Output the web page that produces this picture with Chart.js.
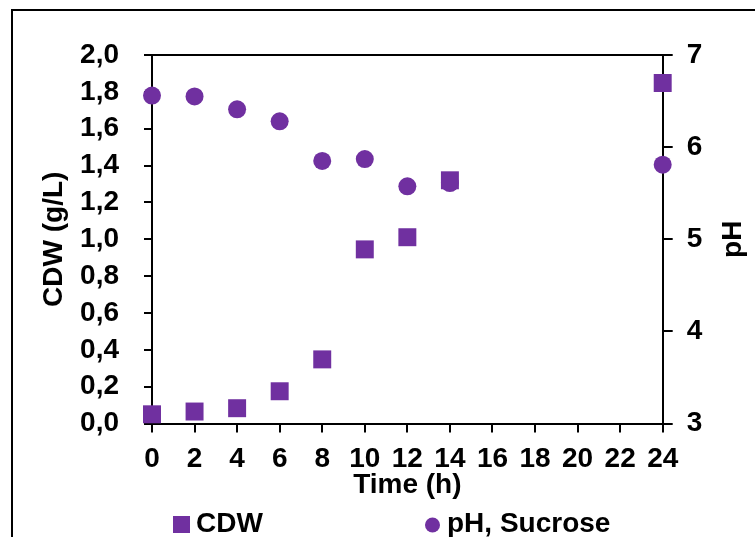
<!DOCTYPE html>
<html>
<head>
<meta charset="utf-8">
<script src="https://cdn.jsdelivr.net/npm/chart.js@4"></script>
<style>
  html, body { margin: 0; padding: 0; background: #fff; overflow: hidden; }
  #wrap { position: relative; width: 755px; height: 537px; overflow: hidden; }
  #frame { position: absolute; left: 11px; top: 9px; width: 1000px; height: 1000px;
           border-left: 2px solid #000; border-top: 2px solid #000; }
  canvas { position: absolute; left: 0; top: 0; }
</style>
</head>
<body>
<div id="wrap">
  <div id="frame"></div>
  <canvas id="chart" width="755" height="537"></canvas>
</div>
<script>
// time points (h)
var timeH = [0, 2, 4, 6, 8, 10, 12, 14, 24];
// cell dry weight, g/L (left axis)
var cdw = [0.05, 0.065, 0.083, 0.175, 0.348, 0.945, 1.011, 1.32, 1.848];
// pH (right axis)
var ph = [6.56, 6.55, 6.41, 6.28, 5.85, 5.87, 5.575, 5.61, 5.81];

var cdwTickLabels = ['0,0', '0,2', '0,4', '0,6', '0,8', '1,0', '1,2', '1,4', '1,6', '1,8', '2,0'];
var phTickLabels = ['3', '4', '5', '6', '7'];
var xTickLabels = ['0', '2', '4', '6', '8', '10', '12', '14', '16', '18', '20', '22', '24'];

var purple = '#7030A0';
var fontFam = '"Liberation Sans", Arial, sans-serif';

function pts(xs, ys) {
    return xs.map(function(x, i) { return {x: x, y: ys[i]}; });
}

// top border of the plot area, right axis title, legend
var extras = {
    id: 'extras',
    afterDraw: function(chart) {
        var ctx = chart.ctx, a = chart.chartArea;
        ctx.save();
        ctx.strokeStyle = '#000';
        ctx.lineWidth = 2;
        ctx.beginPath();
        ctx.moveTo(a.left, a.top);
        ctx.lineTo(a.right, a.top);
        ctx.stroke();

        ctx.fillStyle = '#000';
        ctx.font = 'bold 28px ' + fontFam;
        ctx.textAlign = 'center';
        ctx.textBaseline = 'middle';
        ctx.translate(733, (a.top + a.bottom) / 2);
        ctx.rotate(-Math.PI / 2);
        ctx.fillText('pH', 0, 0);
        ctx.restore();

        // legend
        var ds = chart.data.datasets;
        ctx.save();
        ctx.font = 'bold 28px ' + fontFam;
        ctx.textBaseline = 'middle';
        ctx.textAlign = 'left';
        ctx.fillStyle = ds[0].backgroundColor;
        ctx.fillRect(173, 516, 17, 17);
        ctx.fillStyle = '#000';
        ctx.fillText(ds[0].label, 196, 524);
        ctx.fillStyle = ds[1].backgroundColor;
        ctx.beginPath();
        ctx.arc(432.5, 525, 7.5, 0, Math.PI * 2);
        ctx.fill();
        ctx.fillStyle = '#000';
        ctx.fillText(ds[1].label, 447, 524);
        ctx.restore();
    }
};

new Chart(document.getElementById('chart'), {
    type: 'scatter',
    data: {
        datasets: [{
            label: 'CDW',
            data: pts(timeH, cdw),
            yAxisID: 'y',
            pointStyle: 'rect',
            pointRadius: 12.7,
            backgroundColor: purple,
            borderWidth: 0,
            clip: false
        }, {
            label: 'pH, Sucrose',
            data: pts(timeH, ph),
            yAxisID: 'y2',
            pointStyle: 'circle',
            pointRadius: 9,
            backgroundColor: purple,
            borderWidth: 0,
            clip: false
        }]
    },
    options: {
        responsive: false,
        animation: false,
        events: [],
        layout: { padding: { top: 55, left: 0, right: 0, bottom: 0 } },
        plugins: { legend: { display: false }, tooltip: { enabled: false } },
        scales: {
            x: {
                type: 'linear',
                min: 0, max: 24,
                afterFit: function(s) { s.height = 113.5; },
                border: { color: '#000', width: 2 },
                grid: { drawOnChartArea: false, color: '#000', lineWidth: 2, tickLength: 9 },
                ticks: {
                    stepSize: 2, padding: 10, color: '#000', maxRotation: 0, autoSkip: false,
                    font: { family: fontFam, size: 28, weight: 'bold' },
                    callback: function(v, i) { return xTickLabels[i]; }
                },
                title: {
                    display: true, text: 'Time (h)', color: '#000',
                    font: { family: fontFam, size: 28, weight: 'bold' },
                    padding: { top: 0, bottom: 35 }
                }
            },
            y: {
                position: 'left',
                min: 0, max: 2,
                afterFit: function(s) { s.width = 152; },
                border: { color: '#000', width: 2 },
                grid: { drawOnChartArea: false, color: '#000', lineWidth: 2, tickLength: 8 },
                ticks: {
                    stepSize: 0.2, padding: 25, color: '#000',
                    font: { family: fontFam, size: 28, weight: 'bold' },
                    callback: function(v, i) { return cdwTickLabels[i]; }
                },
                title: {
                    display: true, text: 'CDW (g/L)', color: '#000',
                    font: { family: fontFam, size: 28, weight: 'bold' },
                    padding: { top: 37, bottom: 0 }
                }
            },
            y2: {
                position: 'right',
                min: 3, max: 7,
                afterFit: function(s) { s.width = 92.3; },
                border: { color: '#000', width: 2 },
                grid: { drawOnChartArea: false, color: '#000', lineWidth: 2, tickLength: 10 },
                ticks: {
                    stepSize: 1, padding: 14, color: '#000',
                    font: { family: fontFam, size: 28, weight: 'bold' },
                    callback: function(v, i) { return phTickLabels[i]; }
                }
            }
        }
    },
    plugins: [extras]
});
</script>
</body>
</html>
